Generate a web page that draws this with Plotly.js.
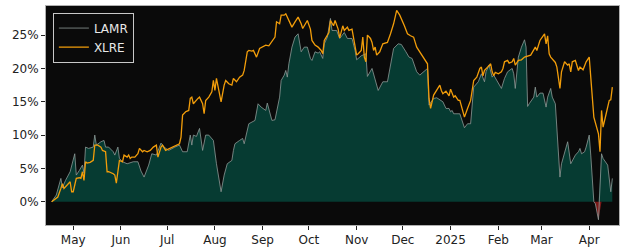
<!DOCTYPE html>
<html>
<head>
<meta charset="utf-8">
<script src="https://cdn.plot.ly/plotly-3.0.1.min.js"></script>
<style>html,body{margin:0;padding:0;background:#fff;}#chart{width:625px;height:250px;}</style>
</head>
<body>
<div id="chart"></div>
<script>
const lamrDates = ['2024-04-17','2024-04-20','2024-04-23','2024-04-24','2024-04-26','2024-04-29','2024-05-02','2024-05-03','2024-05-05','2024-05-07','2024-05-08','2024-05-09','2024-05-11','2024-05-14','2024-05-15','2024-05-16','2024-05-19','2024-05-21','2024-05-22','2024-05-24','2024-05-27','2024-05-28','2024-05-30','2024-05-31','2024-06-02','2024-06-05','2024-06-09','2024-06-12','2024-06-14','2024-06-16','2024-06-19','2024-06-21','2024-06-24','2024-06-27','2024-06-29','2024-07-02','2024-07-06','2024-07-09','2024-07-11','2024-07-14','2024-07-16','2024-07-17','2024-07-18','2024-07-20','2024-07-22','2024-07-24','2024-07-26','2024-07-28','2024-07-31','2024-08-02','2024-08-05','2024-08-07','2024-08-09','2024-08-12','2024-08-13','2024-08-14','2024-08-17','2024-08-19','2024-08-20','2024-08-23','2024-08-27','2024-08-29','2024-08-31','2024-09-03','2024-09-04','2024-09-07','2024-09-09','2024-09-12','2024-09-13','2024-09-15','2024-09-16','2024-09-17','2024-09-18','2024-09-20','2024-09-22','2024-09-24','2024-09-26','2024-09-28','2024-09-30','2024-10-02','2024-10-03','2024-10-05','2024-10-07','2024-10-08','2024-10-10','2024-10-11','2024-10-13','2024-10-15','2024-10-16','2024-10-19','2024-10-21','2024-10-24','2024-10-26','2024-10-29','2024-10-31','2024-11-01','2024-11-04','2024-11-07','2024-11-08','2024-11-11','2024-11-15','2024-11-18','2024-11-21','2024-11-25','2024-11-28','2024-11-30','2024-12-03','2024-12-05','2024-12-07','2024-12-10','2024-12-12','2024-12-16','2024-12-17','2024-12-18','2024-12-21','2024-12-23','2024-12-25','2024-12-27','2024-12-29','2024-12-31','2025-01-01','2025-01-02','2025-01-03','2025-01-07','2025-01-10','2025-01-12','2025-01-14','2025-01-16','2025-01-19','2025-01-21','2025-01-23','2025-01-24','2025-01-26','2025-01-28','2025-01-29','2025-02-01','2025-02-03','2025-02-05','2025-02-07','2025-02-10','2025-02-11','2025-02-12','2025-02-14','2025-02-16','2025-02-18','2025-02-19','2025-02-20','2025-02-21','2025-02-24','2025-02-25','2025-02-26','2025-02-28','2025-03-02','2025-03-04','2025-03-05','2025-03-07','2025-03-08','2025-03-10','2025-03-11','2025-03-13','2025-03-14','2025-03-16','2025-03-18','2025-03-20','2025-03-23','2025-03-25','2025-03-26','2025-03-27','2025-03-29','2025-03-30','2025-04-01','2025-04-02','2025-04-04','2025-04-05','2025-04-07','2025-04-09','2025-04-10','2025-04-13','2025-04-15','2025-04-16'];
const lamrValues = [0.0,1.0,3.5,2.1,3.2,4.5,7.2,4.0,4.7,5.5,4.3,8.2,8.0,8.2,10.0,8.5,9.0,9.2,8.2,8.2,7.5,7.0,8.2,6.5,6.0,5.7,6.0,6.0,4.6,3.7,5.5,7.2,7.0,8.8,8.2,7.7,8.2,8.5,7.5,7.5,10.0,8.5,10.0,9.8,11.0,7.7,10.0,10.0,9.2,5.7,1.5,4.0,5.7,6.2,7.7,8.7,9.2,9.5,8.7,11.7,12.2,14.7,14.2,13.7,14.8,12.2,12.3,15.7,18.2,19.0,19.7,18.7,20.7,23.2,24.7,25.2,22.5,23.2,23.2,21.5,21.2,22.5,22.3,22.5,21.5,23.7,24.7,27.5,25.7,25.7,24.5,25.4,24.5,24.5,22.7,21.3,21.9,22.2,18.8,20.0,16.7,18.0,18.0,23.0,23.7,23.6,22.5,21.7,21.5,19.5,19.0,19.7,20.0,14.5,15.5,15.6,15.3,15.0,14.0,14.0,13.5,13.7,13.2,13.2,11.1,11.7,11.7,17.2,18.0,19.2,18.0,19.5,20.5,18.7,19.0,17.8,17.0,18.5,19.5,20.0,19.2,17.0,21.7,23.2,24.3,23.2,14.3,14.7,15.7,17.2,15.7,16.3,16.3,14.2,15.7,17.0,15.7,14.7,10.7,3.7,5.7,7.5,9.0,5.7,7.0,7.5,8.0,7.2,7.5,8.2,10.0,7.0,0.0,-0.3,-2.7,7.2,6.5,5.5,1.5,3.5];

const xlreDates = ['2024-04-17','2024-04-21','2024-04-23','2024-04-24','2024-04-25','2024-04-27','2024-04-29','2024-04-30','2024-05-01','2024-05-03','2024-05-05','2024-05-06','2024-05-07','2024-05-08','2024-05-09','2024-05-10','2024-05-12','2024-05-14','2024-05-15','2024-05-17','2024-05-19','2024-05-20','2024-05-22','2024-05-23','2024-05-24','2024-05-27','2024-05-28','2024-05-29','2024-05-30','2024-05-31','2024-06-02','2024-06-03','2024-06-05','2024-06-06','2024-06-07','2024-06-08','2024-06-10','2024-06-12','2024-06-13','2024-06-15','2024-06-16','2024-06-18','2024-06-20','2024-06-22','2024-06-24','2024-06-25','2024-06-27','2024-06-28','2024-06-30','2024-07-02','2024-07-05','2024-07-09','2024-07-10','2024-07-11','2024-07-13','2024-07-15','2024-07-16','2024-07-17','2024-07-18','2024-07-19','2024-07-21','2024-07-22','2024-07-24','2024-07-25','2024-07-26','2024-07-28','2024-07-30','2024-07-31','2024-08-01','2024-08-02','2024-08-04','2024-08-05','2024-08-07','2024-08-08','2024-08-10','2024-08-12','2024-08-13','2024-08-15','2024-08-17','2024-08-19','2024-08-20','2024-08-22','2024-08-23','2024-08-25','2024-08-26','2024-08-28','2024-08-30','2024-09-01','2024-09-03','2024-09-05','2024-09-07','2024-09-09','2024-09-10','2024-09-12','2024-09-13','2024-09-15','2024-09-16','2024-09-18','2024-09-20','2024-09-22','2024-09-24','2024-09-26','2024-09-27','2024-09-30','2024-10-02','2024-10-03','2024-10-05','2024-10-07','2024-10-09','2024-10-10','2024-10-11','2024-10-14','2024-10-15','2024-10-17','2024-10-18','2024-10-20','2024-10-21','2024-10-23','2024-10-24','2024-10-26','2024-10-27','2024-10-29','2024-10-30','2024-11-01','2024-11-02','2024-11-04','2024-11-05','2024-11-06','2024-11-07','2024-11-08','2024-11-10','2024-11-11','2024-11-12','2024-11-13','2024-11-14','2024-11-16','2024-11-18','2024-11-21','2024-11-23','2024-11-25','2024-11-27','2024-11-29','2024-12-02','2024-12-04','2024-12-06','2024-12-08','2024-12-10','2024-12-12','2024-12-16','2024-12-17','2024-12-18','2024-12-19','2024-12-21','2024-12-23','2024-12-25','2024-12-26','2024-12-27','2024-12-29','2024-12-31','2025-01-01','2025-01-03','2025-01-04','2025-01-06','2025-01-07','2025-01-09','2025-01-10','2025-01-12','2025-01-14','2025-01-16','2025-01-18','2025-01-20','2025-01-21','2025-01-22','2025-01-23','2025-01-25','2025-01-27','2025-01-28','2025-01-29','2025-01-30','2025-02-01','2025-02-03','2025-02-04','2025-02-05','2025-02-07','2025-02-08','2025-02-10','2025-02-11','2025-02-12','2025-02-14','2025-02-16','2025-02-18','2025-02-20','2025-02-22','2025-02-25','2025-02-26','2025-02-28','2025-03-03','2025-03-04','2025-03-05','2025-03-06','2025-03-07','2025-03-10','2025-03-11','2025-03-13','2025-03-14','2025-03-16','2025-03-18','2025-03-19','2025-03-20','2025-03-21','2025-03-23','2025-03-25','2025-03-26','2025-03-28','2025-03-30','2025-04-01','2025-04-04','2025-04-07','2025-04-08','2025-04-09','2025-04-10','2025-04-12','2025-04-14','2025-04-15','2025-04-16'];
const xlreValues = [0.0,0.7,2.0,2.7,2.0,2.5,3.0,1.5,1.5,3.5,3.6,3.5,4.5,3.2,6.0,5.8,5.9,6.2,8.5,8.5,8.2,7.7,7.5,4.5,4.5,4.2,4.0,2.8,4.7,6.2,6.0,7.0,6.7,7.0,6.5,6.7,6.7,7.2,8.0,7.5,7.7,7.5,7.7,8.2,8.5,6.7,8.2,8.5,7.7,7.9,8.2,8.7,9.7,13.0,13.5,13.7,15.5,15.7,14.7,15.0,15.5,15.7,14.7,13.2,15.2,15.7,16.5,18.2,16.7,18.5,16.2,15.0,17.5,18.2,17.7,17.5,18.5,18.0,18.7,19.0,19.7,22.5,22.7,22.6,22.7,21.7,23.0,23.2,23.5,23.4,24.0,24.7,27.0,26.7,28.0,28.0,28.2,27.2,26.2,27.0,27.7,26.7,26.0,27.2,25.9,24.2,23.5,23.2,22.7,22.2,24.2,25.4,27.2,26.4,27.2,25.9,24.6,26.4,25.7,26.2,25.7,25.9,24.7,22.0,22.2,22.7,24.7,21.7,21.0,25.0,24.5,23.9,22.7,23.2,22.0,22.5,23.7,23.9,25.2,26.7,28.7,28.0,26.4,25.2,24.9,24.7,23.2,22.5,21.2,20.7,15.5,14.0,16.0,16.7,17.5,16.7,16.2,16.6,15.9,16.9,15.7,15.9,15.2,15.2,13.5,12.7,14.0,15.2,18.2,18.7,20.0,20.2,18.9,19.7,20.2,20.7,19.5,18.9,19.4,19.2,19.5,20.0,21.0,21.2,20.8,21.0,21.5,20.5,21.2,21.3,21.7,21.8,22.0,23.2,22.7,24.2,25.2,23.7,24.9,22.2,21.7,20.9,20.2,17.0,19.5,21.0,20.5,20.7,19.5,21.0,21.2,19.7,20.2,19.8,21.0,21.7,12.7,10.2,7.5,13.7,11.2,13.2,15.2,15.3,17.2];

const tickDates = ['2024-05-01','2024-06-01','2024-07-01','2024-08-01','2024-09-01','2024-10-01','2024-11-01','2024-12-01','2025-01-01','2025-02-01','2025-03-01','2025-04-01'];
const tickLabels = ['May','Jun','Jul','Aug','Sep','Oct','Nov','Dec','2025','Feb','Mar','Apr'];
const yTicks = [0,5,10,15,20,25];
const yTickLabels = ['0%','5%','10%','15%','20%','25%'];

const lamrPos = lamrValues.map(v => Math.max(v, 0));
const lamrNeg = lamrValues.map(v => Math.min(v, 0));

const font = 'DejaVu Sans, sans-serif';
const traces = [
  {x: lamrDates, y: lamrPos, type: 'scatter', mode: 'lines', fill: 'tozeroy',
   fillcolor: '#063b32', line: {width: 0, color: 'rgba(0,0,0,0)'}, showlegend: false, hoverinfo: 'skip'},
  {x: lamrDates, y: lamrNeg, type: 'scatter', mode: 'lines', fill: 'tozeroy',
   fillcolor: '#7a1818', line: {width: 0, color: 'rgba(0,0,0,0)'}, showlegend: false, hoverinfo: 'skip'},
  {x: lamrDates, y: lamrValues, type: 'scatter', mode: 'lines', name: 'LAMR',
   line: {color: '#8e9b98', width: 0.8}},
  {x: xlreDates, y: xlreValues, type: 'scatter', mode: 'lines', name: 'XLRE',
   line: {color: '#f29d0a', width: 1.3}}
];

const layout = {
  width: 625, height: 250,
  margin: {l: 46, r: 6, t: 6, b: 25, pad: 0},
  paper_bgcolor: '#ffffff',
  plot_bgcolor: '#0a0a0a',
  showlegend: true,
  legend: {x: 0.012, y: 0.97, xanchor: 'left', yanchor: 'top',
    bgcolor: '#0a0a0a', bordercolor: '#c8c8c8', borderwidth: 1,
    font: {family: font, size: 12, color: '#e8e8e8'}, traceorder: 'normal',
    tracegroupgap: 0},
  xaxis: {type: 'date', range: ['2024-04-13 08:00', '2025-04-20 08:00'],
    tickmode: 'array', tickvals: tickDates, ticktext: tickLabels,
    ticks: 'outside', ticklen: 4, tickcolor: '#222', tickwidth: 1,
    showgrid: false, zeroline: false, showline: true, linecolor: '#b0b0b0', linewidth: 1, mirror: true,
    tickfont: {family: font, size: 12, color: '#222'}},
  yaxis: {range: [-3.49, 29.37], tickmode: 'array', tickvals: yTicks, ticktext: yTickLabels,
    ticks: 'outside', ticklen: 4, tickcolor: '#222', tickwidth: 1,
    showgrid: false, zeroline: false, showline: true, linecolor: '#b0b0b0', linewidth: 1, mirror: true,
    tickfont: {family: font, size: 12, color: '#222'}}
};

Plotly.newPlot('chart', traces, layout, {staticPlot: true, displayModeBar: false});
</script>
</body>
</html>
